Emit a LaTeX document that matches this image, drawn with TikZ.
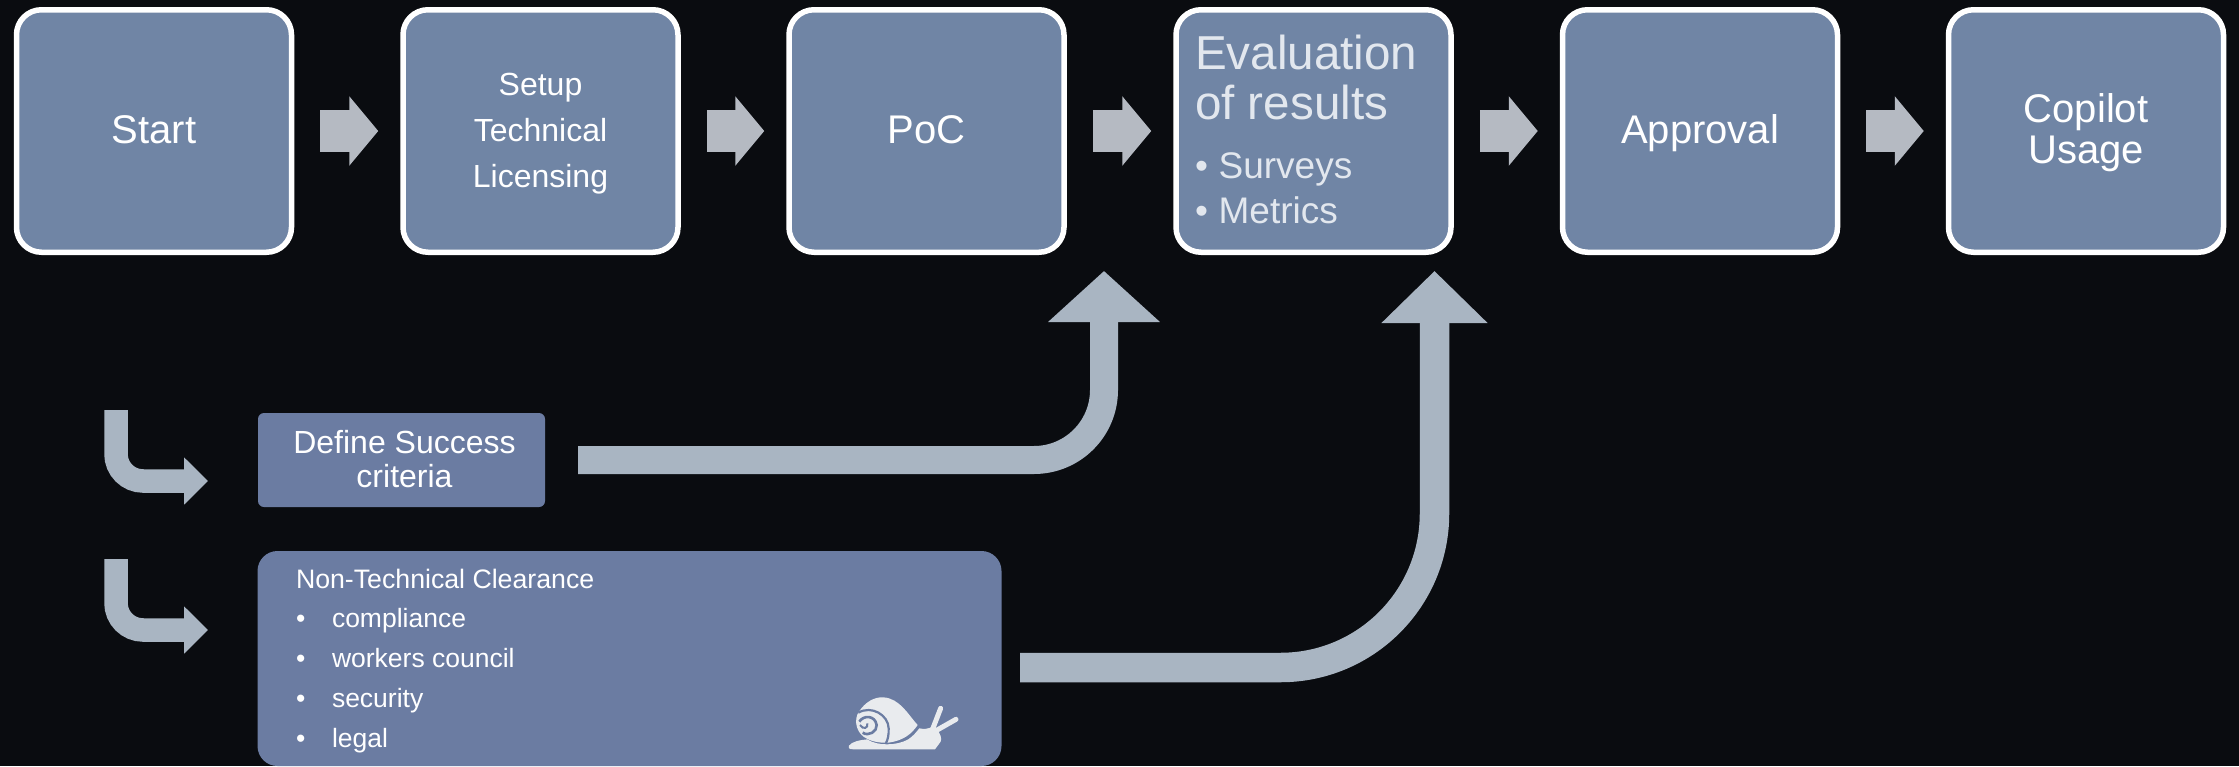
\documentclass[tikz,border=0pt]{standalone}
\usepackage{fontspec}
\setmainfont{Liberation Sans}
\usetikzlibrary{arrows.meta,calc}
\definecolor{bgc}{HTML}{0A0C10}
\definecolor{flowc}{HTML}{7085A5}
\definecolor{lowc}{HTML}{6B7CA2}
\definecolor{chevc}{HTML}{B5BAC2}
\definecolor{curvec}{HTML}{A9B5C2}
\definecolor{evalc}{HTML}{E2E7EE}
\definecolor{snailc}{HTML}{E9EBEE}
\tikzset{
  flowbox/.style={draw=white,line width=5.5pt,fill=flowc,rounded corners=25pt,
    minimum width=275pt,minimum height=242.5pt,inner sep=0pt,text=white,align=center},
  flowtext/.style={font=\fontsize{40}{42}\selectfont,text height=24pt,text depth=0pt},
  lowbox/.style={fill=lowc,inner sep=0pt,outer sep=0pt,text=white,align=center},
  stepchev/.style={draw=chevc,line width=42pt,-{Triangle[length=29pt,width=68pt]},
    shorten <=26pt,shorten >=22pt},
  curvedarrow/.style={draw=curvec},
  freetext/.style={inner sep=0pt,outer sep=0pt,anchor=base west,align=left},
}
\begin{document}
\begin{tikzpicture}[x=1pt,y=-1pt]
\useasboundingbox[fill=bgc] (0,0) rectangle (2239,766);
% top row
\node[flowbox,flowtext] (start) at (154,131) {Start};
\node[flowbox,font=\fontsize{32}{46}\selectfont] (setup) at (540.5,131) {\rule{0pt}{28.5pt}Setup\\Technical\\Licensing};
\node[flowbox,flowtext] (poc) at (926.5,131) {PoC};
\node[flowbox] (eval) at (1313.5,131) {};
\node[flowbox,flowtext] (appr) at (1700,131) {Approval};
\node[flowbox,font=\fontsize{40}{41.7}\selectfont] (copilot) at (2086,131) {\rule{0pt}{32pt}Copilot\\Usage};
\node[freetext,text=evalc,font=\fontsize{47.6}{50}\selectfont] (evaltitle) at (1195,69) {Evaluation};
\node[freetext,text=evalc,font=\fontsize{47.6}{50}\selectfont] (evaltitleb) at (1195,119.5) {of results};
\node[freetext,text=evalc,font=\fontsize{37}{45}\selectfont] (evalb) at (1195,178) {•\hspace{0.29em}Surveys};
\node[freetext,text=evalc,font=\fontsize{37}{45}\selectfont] (evalc) at (1195,223) {•\hspace{0.29em}Metrics};
% chevrons between boxes
\draw[stepchev] (start.east) -- (setup.west);
\draw[stepchev] (setup.east) -- (poc.west);
\draw[stepchev] (poc.east) -- (eval.west);
\draw[stepchev] (eval.east) -- (appr.west);
\draw[stepchev] (appr.east) -- (copilot.west);
% lower boxes
\node[lowbox,rounded corners=6pt,minimum width=287pt,minimum height=94pt] (crit) at (401.5,460) {};
\node[inner sep=0pt,text=white,align=center,font=\fontsize{32}{34.5}\selectfont] (crittext) at (404.5,459) {Define Success\\criteria};
\node[lowbox,rounded corners=20pt,minimum width=744pt,minimum height=215pt] (tech) at (629.5,658.5) {};
\node[freetext,text=white,font=\fontsize{26.7}{40}\selectfont] (t0) at (296,588) {Non-Technical Clearance};
\foreach \n/\yy/\lab in {t1/627/compliance,t2/667/workers council,t3/707/security,t4/747/legal}{
  \node[freetext,text=white,font=\fontsize{26.5}{40}\selectfont] (\n b) at (296,\yy) {•};
  \node[freetext,text=white,font=\fontsize{26.5}{40}\selectfont] (\n) at (332,\yy) {\lab};
}
% curved connectors
\coordinate (tipA) at (1104,271);
\coordinate (tipB) at (1434.5,271);
\draw[curvedarrow,line width=28pt,rounded corners=70pt,shorten <=33pt,
  -{Triangle[length=51pt,width=109pt]}] (crit.east) -| (tipA);
\draw[curvedarrow,line width=29.5pt,rounded corners=154pt,shorten <=18.5pt,
  -{Triangle[length=52pt,width=103pt]}] ($(tech.east)+(0,9)$) -| (tipB);
% entry arrows
\coordinate (la) at (116,410);
\coordinate (lb) at (208,481);
\coordinate (lc) at (116,559);
\coordinate (ld) at (208,630);
\draw[curvedarrow,line width=23.5pt,rounded corners=27pt,
  -{Triangle[length=24pt,width=46pt]}] (la) |- (lb);
\draw[curvedarrow,line width=23.5pt,rounded corners=27pt,
  -{Triangle[length=24pt,width=46pt]}] (lc) |- (ld);
% snail
\begin{scope}[shift={(780,660)},x=0.3333pt,y=-0.3333pt]
  \fill[snailc] (207,257) .. controls (215,245) and (240,240) .. (262,238)
    .. controls (290,258) and (350,258) .. (385,238)
    .. controls (400,228) and (410,215) .. (418,205)
    .. controls (430,208) and (445,207) .. (458,200)
    -- (470,208) .. controls (482,222) and (486,235) .. (482,245)
    -- (465,268) -- (220,268) .. controls (205,268) and (204,262) .. (207,257) -- cycle;
  \draw[snailc,line width=5pt,line cap=round] (458,207) -- (482,145);
  \draw[snailc,line width=5pt,line cap=round] (468,212) -- (528,178);
  \fill[snailc] (235,158) .. controls (255,125) and (285,110) .. (310,112)
    .. controls (360,115) and (385,165) .. (413,195)
    .. controls (395,222) and (370,242) .. (325,248)
    .. controls (290,250) and (260,240) .. (245,225)
    .. controls (225,205) and (225,175) .. (235,158) -- cycle;
  \draw[lowc,line width=2.2pt] (235,158) .. controls (275,135) and (325,165) .. (326,205)
    .. controls (327,225) and (323,240) .. (318,249);
  \draw[lowc,line width=2.6pt] (238,185) .. controls (250,165) and (285,165) .. (290,195)
    .. controls (292,215) and (265,230) .. (248,218);
  \draw[lowc,line width=2pt] (240,195) .. controls (250,210) and (265,205) .. (262,190);
\end{scope}
\end{tikzpicture}
\end{document}
